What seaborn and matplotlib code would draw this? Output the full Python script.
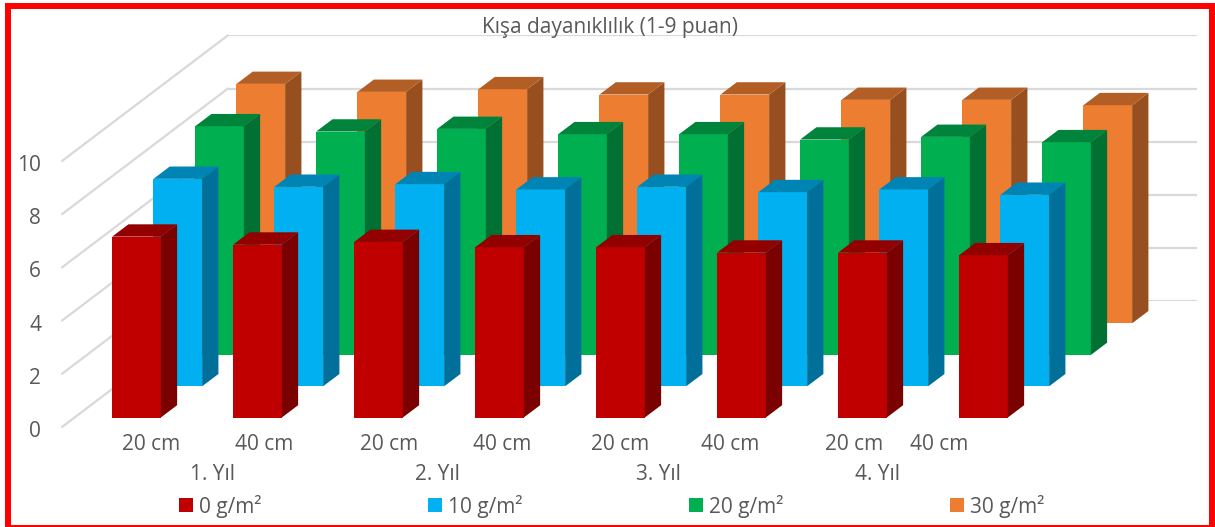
#! /usr/bin/python3
import pandas as pd
import matplotlib
matplotlib.use("Agg")
import matplotlib.pyplot as plt
from matplotlib.patches import ConnectionPatch, Polygon, Rectangle
from matplotlib.transforms import ScaledTranslation
import seaborn as sns

# Data
bars = ["1-20", "1-40", "2-20", "2-40", "3-20", "3-40", "4-20", "4-40"]
depth_labels = ["20 cm", "40 cm", "20 cm", "40 cm", "20 cm", "40 cm", "20 cm", "40 cm"]
years = ["1. Yıl", "2. Yıl", "3. Yıl", "4. Yıl"]
doses = ["0 g/m²", "10 g/m²", "20 g/m²", "30 g/m²"]
dose_0 = [6.8, 6.5, 6.6, 6.4, 6.4, 6.2, 6.2, 6.1]
dose_10 = [7.8, 7.5, 7.6, 7.4, 7.5, 7.3, 7.4, 7.2]
dose_20 = [8.6, 8.4, 8.5, 8.3, 8.3, 8.1, 8.2, 8.0]
dose_30 = [9.0, 8.7, 8.8, 8.6, 8.6, 8.4, 8.4, 8.2]
y_ticks = [0, 2, 4, 6, 8, 10]

W, H = 1215, 527
sns.set_theme(style="white")
plt.rcParams["font.family"] = ["Open Sans", "DejaVu Sans"]
TEXT = "#595959"
GRID = "#D9D9D9"
SIZE = 15

fig = plt.figure(figsize=(W / 100, H / 100), dpi=100, facecolor="white")


def axes_px(left, base, width, height):
    # axes placed by pixel position, base measured from the top of the image
    ax = fig.add_axes([left / W, 1 - base / H, width / W, height / H])
    ax.patch.set_visible(False)
    ax.set_ylim(0, 10)
    return ax


# back wall with gridlines
wall = axes_px(228, 301.3, 969, 266)
wall.set_xticks([])
wall.set_yticks(y_ticks)
wall.set_yticklabels([])
wall.tick_params(length=0)
wall.grid(axis="y", color=GRID, lw=1.6)
wall.set_axisbelow(True)
sns.despine(ax=wall, left=True, bottom=True)

# front edge carrying the value labels
front = axes_px(62, 427, 10, 266)
front.set_xticks([])
front.set_yticks(y_ticks)
front.tick_params(length=0, pad=15, labelsize=SIZE, labelcolor=TEXT)
sns.despine(ax=front, left=True, bottom=True)
nudge = ScaledTranslation(0, -2 / 100, fig.dpi_scale_trans)
for lab in front.get_yticklabels():
    lab.set_transform(lab.get_transform() + nudge)

# side walls: lines running from the front edge to the back wall
for v in y_ticks:
    wall.add_artist(ConnectionPatch(
        (0, v), (0, v),
        coordsA=wall.get_yaxis_transform(), coordsB=front.get_yaxis_transform(),
        arrowstyle="-", shrinkA=0, shrinkB=0, color=GRID, lw=1.6, zorder=0))

# one axes per row, back to front, each shifted along the depth direction
rows = [
    (dose_30, 200.3, 323.3, "#ED7D31", "#974F1F", "#B25E25"),
    (dose_20, 159, 355, "#00B050", "#007033", "#00843C"),
    (dose_10, 117.3, 386.3, "#00B0F0", "#00709A", "#0084B4"),
    (dose_0, 76, 417.5, "#C00000", "#7B0000", "#930000"),
]
AX_W = 968
DX = 16.3 / (AX_W / 8)
DY = 12.3 / 26.6

handles = {}
for values, left, base, face, side, top in rows:
    ax = axes_px(left, base, AX_W, 266)
    df = pd.DataFrame({"bar": bars, "value": values})
    sns.barplot(data=df, x="bar", y="value", color=face, saturation=1, width=0.402,
                linewidth=0, ax=ax)
    ax.set_xlim(-0.5, 7.5)
    ax.set_ylim(0, 10)
    ax.set_axis_off()
    for p in ax.containers[0]:
        x0, x1, h = p.get_x(), p.get_x() + p.get_width(), p.get_height()
        ax.add_patch(Polygon([(x1, 0), (x1 + DX, DY), (x1 + DX, h + DY), (x1, h)],
                             fc=side, ec="none", clip_on=False))
        ax.add_patch(Polygon([(x0, h), (x0 + DX, h + DY), (x1 + DX, h + DY), (x1, h)],
                             fc=top, ec="none", clip_on=False))
    handles[face] = ax.containers[0]

# labels that do not sit on a regular spacing in the original
for label, x in zip(depth_labels, [151, 264.5, 389, 502, 620, 730, 854, 939]):
    fig.text(x / W, 1 - 445 / H, label, ha="center", va="center", fontsize=SIZE, color=TEXT)
for label, x in zip(years, [212, 437, 658, 877.5]):
    fig.text(x / W, 1 - 474 / H, label, ha="center", va="center", fontsize=SIZE, color=TEXT)
fig.text(610 / W, 1 - 28 / H, "Kışa dayanıklılık (1-9 puan)", ha="center", va="center",
         fontsize=15, color=TEXT)

leg = fig.legend([handles["#C00000"], handles["#00B0F0"], handles["#00B050"], handles["#ED7D31"]],
                 doses, ncol=4, loc="center left", bbox_to_anchor=(179 / W, 1 - 506 / H),
                 frameon=False, fontsize=SIZE, labelcolor=TEXT, handlelength=0.67,
                 handleheight=0.67, handletextpad=0.29, columnspacing=8.0, borderpad=0,
                 borderaxespad=0)

# red frame
fig.add_artist(Rectangle((8 / W, 1 - 528 / H), 1204 / W, 522.5 / H, transform=fig.transFigure,
                         fc="none", ec="#FF0000", lw=4.3, clip_on=True))

fig.savefig("out.png", dpi=100)
